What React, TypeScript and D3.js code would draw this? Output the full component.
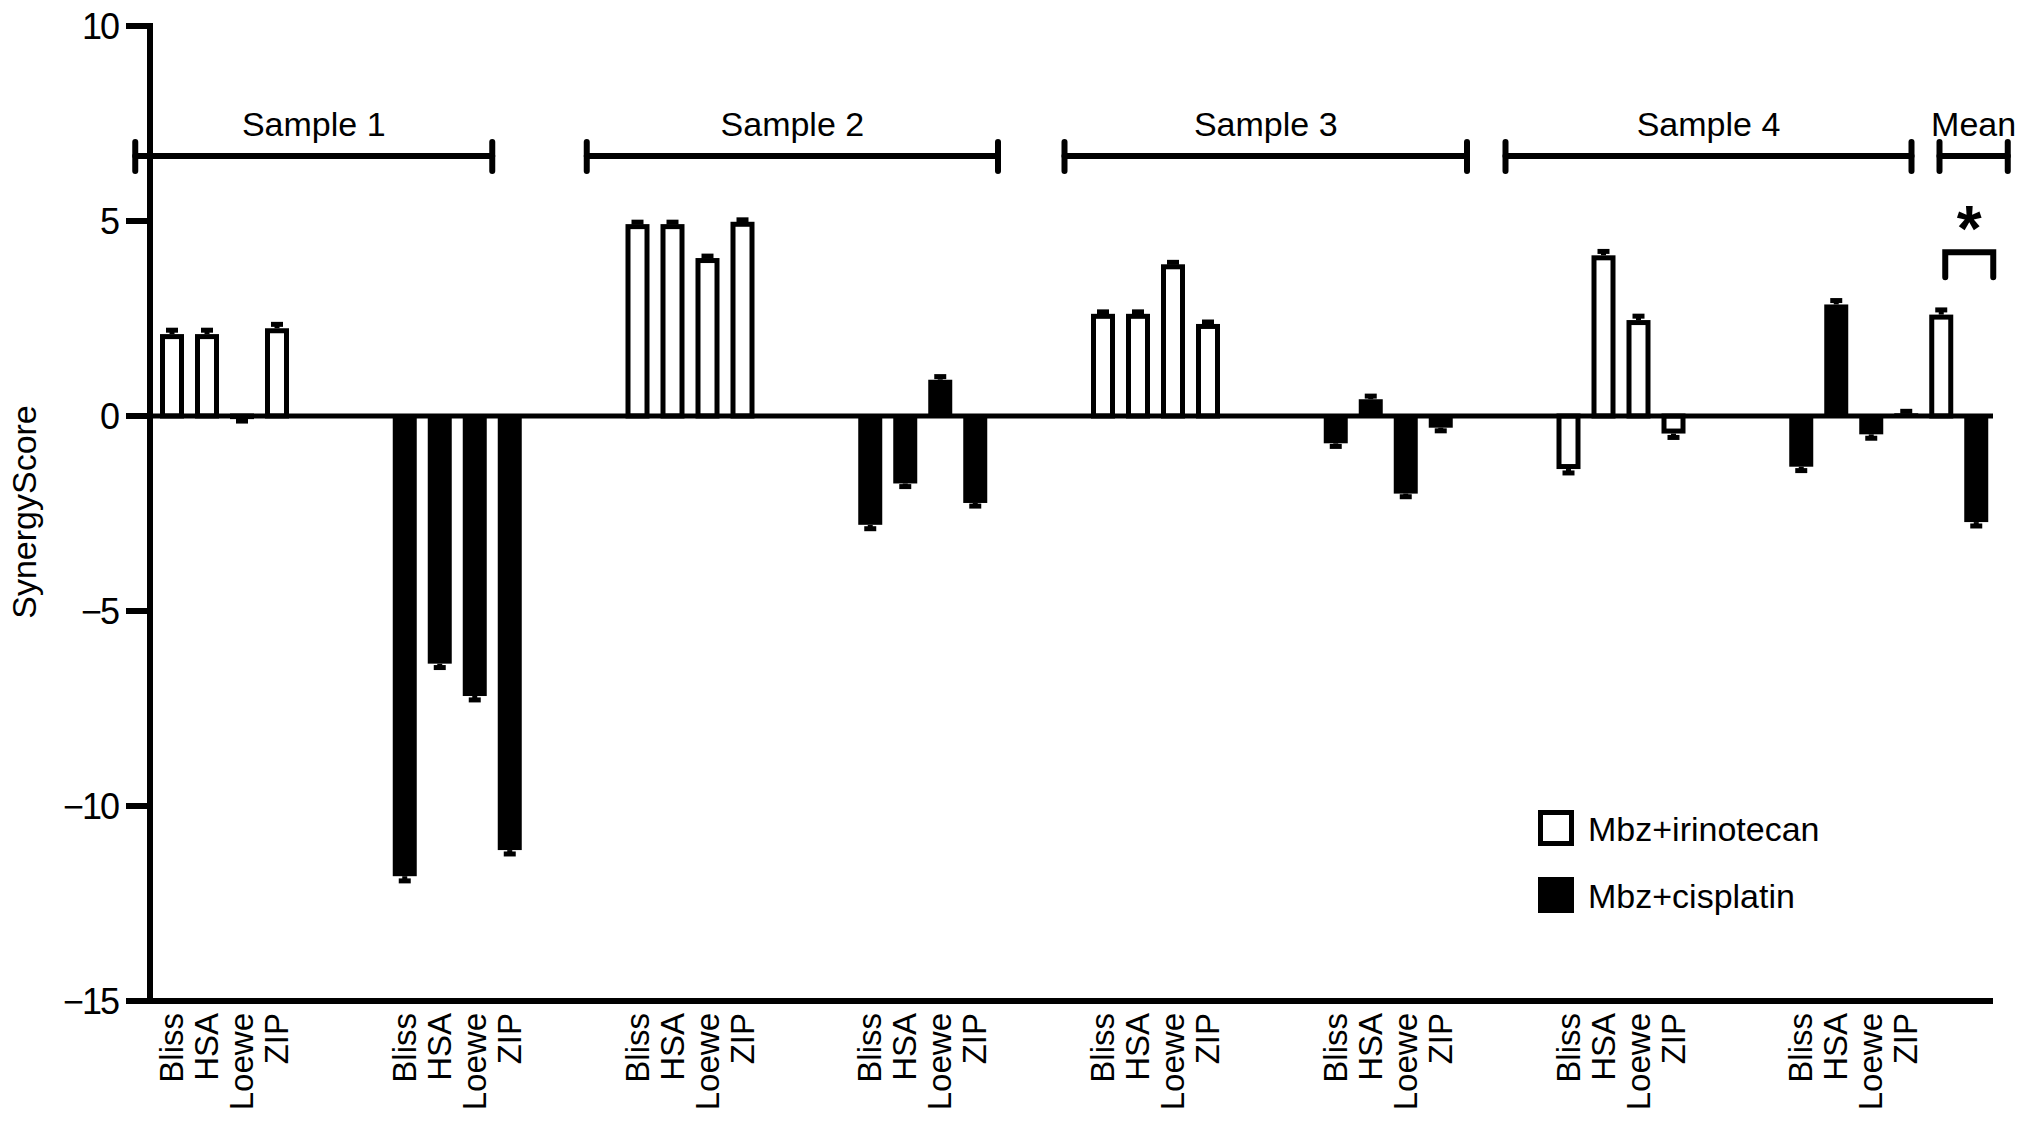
import * as d3 from "d3";

const samples = ["Sample 1", "Sample 2", "Sample 3", "Sample 4"];
const methods = ["Bliss", "HSA", "Loewe", "ZIP"];
const treatments = ["Mbz+irinotecan", "Mbz+cisplatin"];

// synergy scores per sample, order: Bliss, HSA, Loewe, ZIP
const irinotecan = [
  [2.1, 2.1, -0.08, 2.25],
  [4.92, 4.92, 4.05, 4.98],
  [2.62, 2.62, 3.89, 2.36],
  [-1.36, 4.12, 2.46, -0.45],
];
const irinotecanErr = [
  [0.1, 0.1, 0.05, 0.1],
  [0.05, 0.05, 0.05, 0.05],
  [0.05, 0.05, 0.05, 0.05],
  [0.1, 0.1, 0.1, 0.1],
];
const cisplatin = [
  [-11.8, -6.35, -7.18, -11.13],
  [-2.79, -1.73, 0.93, -2.23],
  [-0.7, 0.43, -1.99, -0.3],
  [-1.3, 2.86, -0.47, 0.07],
];
const cisplatinErr = [
  [0.12, 0.1, 0.1, 0.1],
  [0.1, 0.08, 0.08, 0.08],
  [0.08, 0.08, 0.08, 0.08],
  [0.1, 0.1, 0.1, 0.05],
];
const meanValues = [2.6, -2.72];
const meanErr = [0.12, 0.1];

const yTicks = [10, 5, 0, -5, -10, -15];

// header bracket spans, in bar-slot units
const bracketStart = [-1.05, 11.85, 25.5, 38.1, 50.5];
const bracketEnd = [9.15, 23.6, 37.0, 49.7, 52.45];
const bracketLabels = [...samples, "Mean"];

const W = 2032;
const H = 1125;
const groupStep = 6.65;
const font = "'Liberation Sans', Arial, Helvetica, sans-serif";

export default function App() {
  const y = d3.scaleLinear().domain([-15, 10]).range([1001, 26]);
  const x = d3.scaleLinear().domain([0, 50]).range([172, 172 + 35 * 50]);
  const fmt = d3.format("d");
  const axisLeft = 150;
  const axisRight = 1993;
  const barW = 24;

  type Bar = { key: string; slot: number; value: number; err: number; filled: boolean; label?: string };
  const bars: Bar[] = [];
  samples.forEach((s, si) => {
    methods.forEach((m, mi) => {
      bars.push({ key: `${s}-i-${m}`, slot: si * 2 * groupStep + mi, value: irinotecan[si][mi], err: irinotecanErr[si][mi], filled: false, label: m });
      bars.push({ key: `${s}-c-${m}`, slot: (si * 2 + 1) * groupStep + mi, value: cisplatin[si][mi], err: cisplatinErr[si][mi], filled: true, label: m });
    });
  });
  const meanSlot = 7 * groupStep + 4;
  meanValues.forEach((v, i) => {
    bars.push({ key: `mean-${i}`, slot: meanSlot + i, value: v, err: meanErr[i], filled: i === 1 });
  });

  const y0 = y(0);
  const sigX0 = x(meanSlot) + 4;
  const sigX1 = x(meanSlot + 1) + 17;
  const sigTop = y(4.2);

  return (
    <svg width={W} height={H} style={{ position: "absolute", left: 0, top: 0, display: "block", background: "#fff" }} fontFamily={font}>
      {/* bars */}
      {bars.map(b => {
        const cx = x(b.slot);
        const top = Math.min(y(b.value), y0);
        const h = Math.abs(y(b.value) - y0);
        const dir = b.value >= 0 ? 1 : -1;
        const eEnd = y(b.value + dir * b.err);
        return (
          <g key={b.key}>
            {b.filled ? (
              <rect x={cx - barW / 2} y={top} width={barW} height={h} fill="#000" />
            ) : (
              <rect x={cx - barW / 2 + 2.5} y={top + (dir > 0 ? 2.5 : 0)} width={barW - 5} height={Math.max(h - 2.5, 0)} fill="#fff" stroke="#000" strokeWidth={5} />
            )}
            <line x1={cx} x2={cx} y1={y(b.value)} y2={eEnd} stroke="#000" strokeWidth={5} />
            <line x1={cx - 6} x2={cx + 6} y1={eEnd} y2={eEnd} stroke="#000" strokeWidth={5} />
          </g>
        );
      })}

      {/* zero line */}
      <line x1={axisLeft} x2={axisRight} y1={y0} y2={y0} stroke="#000" strokeWidth={5} />

      {/* y axis */}
      <line x1={axisLeft} x2={axisLeft} y1={y(10) - 3} y2={y(-15)} stroke="#000" strokeWidth={6} />
      <line x1={axisLeft - 24} x2={axisRight} y1={y(-15)} y2={y(-15)} stroke="#000" strokeWidth={6} />
      {yTicks.map(t => (
        <g key={t}>
          <line x1={axisLeft - 24} x2={axisLeft} y1={y(t)} y2={y(t)} stroke="#000" strokeWidth={6} />
          <text x={axisLeft - 32} y={y(t)} dy="0.36em" textAnchor="end" fontSize={36} letterSpacing={-2}>
            {fmt(t)}
          </text>
        </g>
      ))}
      <text transform={`translate(36, 512) rotate(-90)`} textAnchor="middle" fontSize={34}>
        SynergyScore
      </text>

      {/* category labels */}
      {bars.filter(b => b.label).map(b => (
        <text key={`l-${b.key}`} transform={`translate(${x(b.slot) + 11}, 1013) rotate(-90)`} textAnchor="end" fontSize={33}>
          {b.label}
        </text>
      ))}

      {/* header brackets */}
      {bracketLabels.map((lab, i) => {
        const a = x(bracketStart[i]);
        const b = x(bracketEnd[i]);
        return (
          <g key={lab} stroke="#000" strokeWidth={6} strokeLinecap="round">
            <line x1={a} x2={b} y1={156} y2={156} />
            <line x1={a} x2={a} y1={142} y2={171} />
            <line x1={b} x2={b} y1={142} y2={171} />
            <text x={(a + b) / 2} y={136} textAnchor="middle" fontSize={34} stroke="none" fill="#000">
              {lab}
            </text>
          </g>
        );
      })}

      {/* significance */}
      <path d={`M${sigX0},${sigTop + 25}V${sigTop}H${sigX1}V${sigTop + 25}`} fill="none" stroke="#000" strokeWidth={6} strokeLinecap="round" />
      <text x={(sigX0 + sigX1) / 2} y={sigTop - 1} textAnchor="middle" fontSize={64} fontWeight="bold">
        *
      </text>

      {/* legend */}
      {treatments.map((t, i) => (
        <g key={t} transform={`translate(1538, ${810 + i * 67})`}>
          {i === 0 ? (
            <rect x={2.5} y={2.5} width={31} height={31} fill="#fff" stroke="#000" strokeWidth={5} />
          ) : (
            <rect x={0} y={0} width={36} height={36} fill="#000" />
          )}
          <text x={50} y={31} fontSize={34}>
            {t}
          </text>
        </g>
      ))}
    </svg>
  );
}
